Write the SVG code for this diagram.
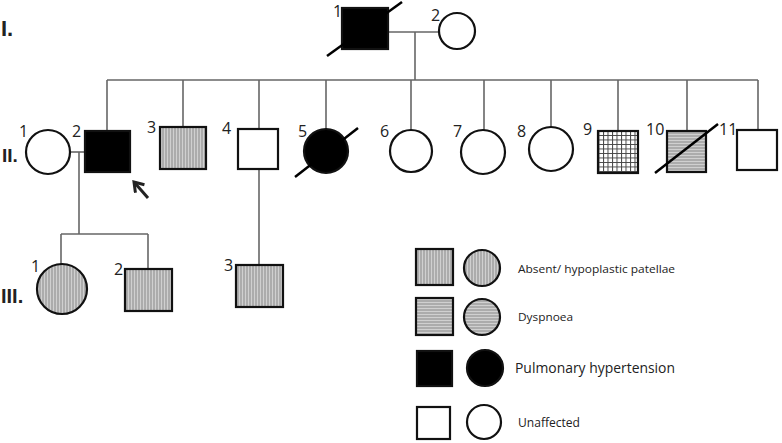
<svg xmlns="http://www.w3.org/2000/svg" width="782" height="443" viewBox="0 0 782 443">
<defs>
<pattern id="vstripe" width="3" height="3" patternUnits="userSpaceOnUse">
<rect width="3" height="3" fill="#d0d0d0"/>
<line x1="1" y1="0" x2="1" y2="3" stroke="#888" stroke-width="1"/>
</pattern>
<pattern id="hstripe" width="3" height="3" patternUnits="userSpaceOnUse">
<rect width="3" height="3" fill="#d0d0d0"/>
<line x1="0" y1="1" x2="3" y2="1" stroke="#888" stroke-width="1"/>
</pattern>
<pattern id="grid" width="4.5" height="4.5" patternUnits="userSpaceOnUse">
<rect width="4.5" height="4.5" fill="#fff"/>
<path d="M0 0.5H4.5M0.5 0V4.5" stroke="#444" stroke-width="1"/>
</pattern>
<marker id="ah" markerWidth="14" markerHeight="14" refX="11" refY="7" orient="auto" markerUnits="userSpaceOnUse">
<path d="M2 1 L11 7 L2 13" fill="none" stroke="#222" stroke-width="3"/>
</marker>
</defs>
<style>
.s{stroke:#111;stroke-width:2.2}
.w{fill:#fff}
.b{fill:#000}
.v{fill:url(#vstripe)}
.h{fill:url(#hstripe)}
.g{fill:url(#grid)}
.ln{stroke:#666;stroke-width:1.6;fill:none}
.d{stroke:#000;stroke-width:2.5}
.n{font-family:"Open Sans","Liberation Sans",sans-serif;font-size:16px;fill:#222}
.gen{font-family:"Liberation Sans",Arial,sans-serif;font-weight:bold;fill:#222}
.lg{font-family:"Open Sans","Liberation Sans",sans-serif;fill:#222}
</style>

<g id="connectors">
<path class="ln" d="M388 32H439"/>
<path class="ln" d="M415 32V80"/>
<path class="ln" d="M107 80H758"/>
<path class="ln" d="M107 80V131"/>
<path class="ln" d="M183 80V127"/>
<path class="ln" d="M259 80V129"/>
<path class="ln" d="M326 80V129"/>
<path class="ln" d="M411 80V130"/>
<path class="ln" d="M484 80V130"/>
<path class="ln" d="M551 80V127"/>
<path class="ln" d="M618 80V131"/>
<path class="ln" d="M687 80V131"/>
<path class="ln" d="M758 80V130"/>
<path class="ln" d="M70 152H85"/>
<path class="ln" d="M79 152V234"/>
<path class="ln" d="M61 234H148"/>
<path class="ln" d="M61 234V264"/>
<path class="ln" d="M148 234V269"/>
<path class="ln" d="M259 169V265"/>
<path d="M148 198 L134 182" stroke="#222" stroke-width="3" marker-end="url(#ah)"/>
</g>

<text class="gen" x="1" y="36" font-size="22">I.</text>
<text class="gen" x="2" y="162" font-size="19">II.</text>
<text class="gen" x="1" y="303" font-size="20">III.</text>

<g id="I1"><rect class="s b" x="342" y="8" width="46" height="41"/><line class="d" x1="327" y1="56" x2="402" y2="2"/><text class="n" x="333" y="17">1</text></g>
<g id="I2"><circle class="s w" cx="457" cy="31" r="18"/><text class="n" x="431" y="21">2</text></g>

<g id="II1"><circle class="s w" cx="48" cy="152" r="22"/><text class="n" x="19" y="137">1</text></g>
<g id="II2"><rect class="s b" x="85" y="131" width="45" height="41"/><text class="n" x="72" y="137">2</text></g>
<g id="II3"><rect class="s v" x="160" y="127" width="46" height="42"/><text class="n" x="147" y="133">3</text></g>
<g id="II4"><rect class="s w" x="238" y="129" width="40" height="40"/><text class="n" x="222" y="134">4</text></g>
<g id="II5"><circle class="s b" cx="326" cy="151" r="22"/><line class="d" x1="295" y1="177" x2="358" y2="128"/><text class="n" x="298" y="137">5</text></g>
<g id="II6"><circle class="s w" cx="411" cy="151" r="21"/><text class="n" x="380" y="137">6</text></g>
<g id="II7"><circle class="s w" cx="483" cy="152" r="22"/><text class="n" x="453" y="137">7</text></g>
<g id="II8"><circle class="s w" cx="551" cy="149" r="22"/><text class="n" x="517" y="137">8</text></g>
<g id="II9"><rect class="s g" x="598" y="131" width="40" height="42"/><text class="n" x="583" y="135">9</text></g>
<g id="II10"><rect class="s h" x="667" y="131" width="39" height="41"/><line class="d" x1="655" y1="173" x2="718" y2="124"/><text class="n" x="646" y="135">10</text></g>
<g id="II11"><rect class="s w" x="737" y="130" width="40" height="40"/><text class="n" x="719" y="135">11</text></g>

<g id="III1"><circle class="s v" cx="62" cy="289" r="25"/><text class="n" x="31" y="272">1</text></g>
<g id="III2"><rect class="s v" x="125" y="269" width="47" height="42"/><text class="n" x="114" y="275">2</text></g>
<g id="III3"><rect class="s v" x="236" y="265" width="47" height="42"/><text class="n" x="224" y="271">3</text></g>

<g id="legend">
<rect class="s v" x="416" y="249" width="37" height="36"/>
<circle class="s v" cx="482" cy="268" r="18"/>
<text class="lg" x="518" y="273" font-size="11" textLength="157" lengthAdjust="spacingAndGlyphs">Absent/ hypoplastic patellae</text>
<rect class="s h" x="416" y="298" width="37" height="37"/>
<circle class="s h" cx="482" cy="317" r="18"/>
<text class="lg" x="518" y="321" font-size="11" textLength="55" lengthAdjust="spacingAndGlyphs">Dyspnoea</text>
<rect class="s b" x="417" y="351" width="35" height="35"/>
<circle class="s b" cx="485" cy="368" r="18"/>
<text class="lg" x="515" y="373" font-size="14" textLength="160" lengthAdjust="spacingAndGlyphs">Pulmonary hypertension</text>
<rect class="s w" x="417" y="407" width="33" height="32"/>
<circle class="s w" cx="484" cy="422" r="17"/>
<text class="lg" x="518" y="427" font-size="12" textLength="62" lengthAdjust="spacingAndGlyphs">Unaffected</text>
</g>
</svg>
